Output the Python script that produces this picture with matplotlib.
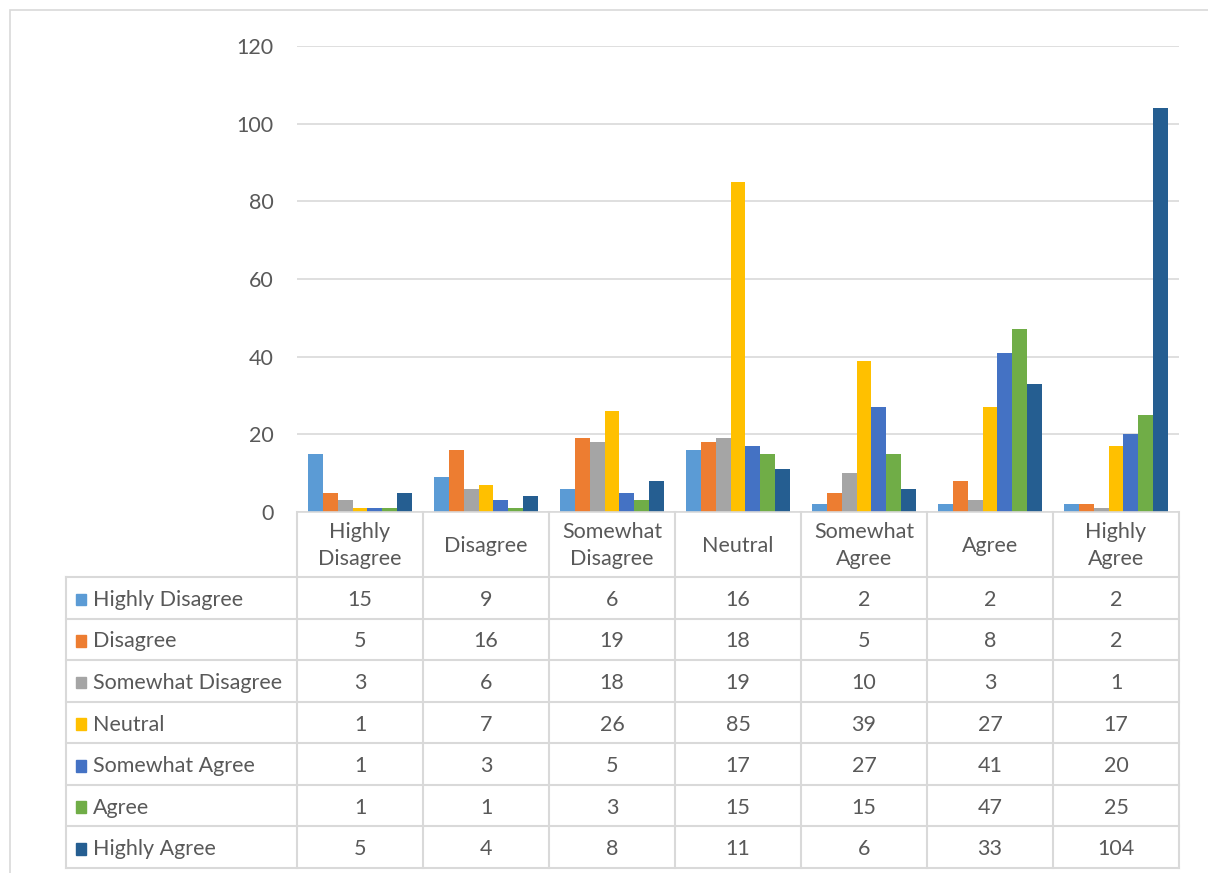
import matplotlib.pyplot as plt
from matplotlib.patches import Rectangle
import numpy as np

plt.rcParams['font.family'] = ['Lato', 'DejaVu Sans']

categories = ['Highly\nDisagree', 'Disagree', 'Somewhat\nDisagree', 'Neutral',
              'Somewhat\nAgree', 'Agree', 'Highly\nAgree']
series = ['Highly Disagree', 'Disagree', 'Somewhat Disagree', 'Neutral',
          'Somewhat Agree', 'Agree', 'Highly Agree']
highly_disagree = [15, 9, 6, 16, 2, 2, 2]
disagree = [5, 16, 19, 18, 5, 8, 2]
somewhat_disagree = [3, 6, 18, 19, 10, 3, 1]
neutral = [1, 7, 26, 85, 39, 27, 17]
somewhat_agree = [1, 3, 5, 17, 27, 41, 20]
agree = [1, 1, 3, 15, 15, 47, 25]
highly_agree = [5, 4, 8, 11, 6, 33, 104]
values = [highly_disagree, disagree, somewhat_disagree, neutral,
          somewhat_agree, agree, highly_agree]
colors = ['#5B9BD5', '#ED7D31', '#A5A5A5', '#FFC000', '#4472C4', '#70AD47', '#255E91']

W, H = 1208, 873
fig = plt.figure(figsize=(W / 100, H / 100), dpi=100)
txt = '#595959'
grid = '#d9d9d9'
fs = 15.5

def box(x0, y0, x1, y1):
    # pixel box (top-left origin) -> figure fraction
    return [x0 / W, 1 - y1 / H, (x1 - x0) / W, (y1 - y0) / H]

# outer chart frame
fig.patches.append(Rectangle((10 / W, -0.1), 1.2, 1 - 10 / H + 0.1, transform=fig.transFigure,
                             fill=False, edgecolor=grid, linewidth=1.2))

# bar chart
ax = fig.add_axes(box(297, 46, 1179, 512))
x = np.arange(len(categories))
n = len(series)
bw = 0.117
for i, (name, vals, c) in enumerate(zip(series, values, colors)):
    ax.bar(x + (i - (n - 1) / 2) * bw, vals, width=bw, color=c, label=name)
ax.set_xlim(-0.5, len(categories) - 0.5)
ax.set_ylim(0, 120)
ax.set_yticks(range(0, 121, 20))
ax.yaxis.grid(True, color=grid, linewidth=1.2)
ax.set_axisbelow(True)
for s in ['top', 'right', 'left']:
    ax.spines[s].set_visible(False)
ax.spines['bottom'].set_color(grid)
ax.spines['bottom'].set_linewidth(1.2)
ax.tick_params(axis='y', length=0, pad=17, labelsize=fs, labelcolor=txt)
ax.set_xticks([])

# data table
left_w = (297 - 66) / ((1179 - 297) / 7)
row_h = (868 - 577) / 7
head = (577 - 512) / row_h
tab = fig.add_axes(box(66, 512, 1179, 868))
tab.set_xlim(-0.5 - left_w, len(categories) - 0.5)
tab.set_ylim(head + n, 0)
tab.axis('off')
lk = dict(color=grid, linewidth=1.5, clip_on=False)
for j in range(len(categories) + 1):
    tab.plot([j - 0.5, j - 0.5], [0, head + n], **lk)
tab.plot([-0.5 - left_w] * 2, [head, head + n], **lk)
for r in range(n + 1):
    tab.plot([-0.5 - left_w, len(categories) - 0.5], [head + r, head + r], **lk)
for j, cat in enumerate(categories):
    tab.text(j, head / 2 + 0.03, cat, ha='center', va='center', fontsize=fs, color=txt,
             linespacing=1.45)
for r, (name, vals, c) in enumerate(zip(series, values, colors)):
    yc = head + r + 0.55
    tab.add_patch(Rectangle((-0.5 - left_w + 0.08, yc - 0.15), 0.08, 0.28,
                            transform=tab.transData, color=c, clip_on=False))
    tab.text(-0.5 - left_w + 0.215, yc, name, ha='left', va='center', fontsize=fs, color=txt)
    for j, v in enumerate(vals):
        tab.text(j, yc, str(v), ha='center', va='center', fontsize=fs, color=txt)

fig.savefig('out.png', dpi=100)
